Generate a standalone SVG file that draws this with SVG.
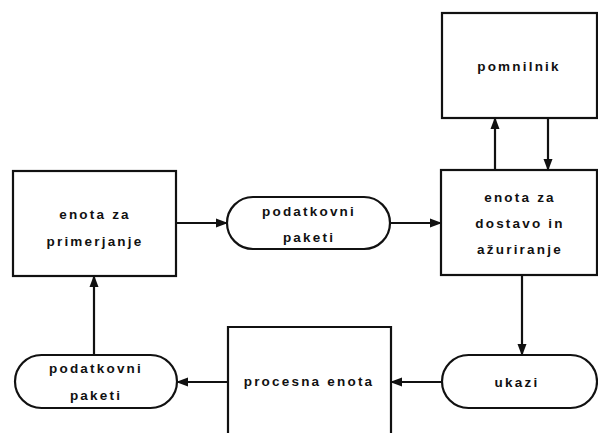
<svg xmlns="http://www.w3.org/2000/svg" width="598" height="433" viewBox="0 0 598 433">
<style>
.box{fill:#fff;stroke:#111;stroke-width:2.2}
.t{font-family:"Liberation Sans",Arial,sans-serif;font-size:13.5px;font-weight:bold;letter-spacing:2.2px;fill:#111;text-anchor:middle;dominant-baseline:central}
.c{stroke:#111;stroke-width:2.2;fill:none;marker-end:url(#ah)}
</style>
<defs>
<marker id="ah" markerWidth="12" markerHeight="10" refX="11" refY="5" orient="auto" markerUnits="userSpaceOnUse">
<path d="M0,0.5 L12,5 L0,9.5 z" fill="#111"/>
</marker>
</defs>
<rect width="598" height="433" fill="#fff"/>
<g id="pomnilnik">
<rect class="box" x="442" y="13" width="155" height="105"/>
<text class="t" x="519" y="66">pomnilnik</text>
</g>
<g id="primerjanje">
<rect class="box" x="13" y="171" width="163" height="105"/>
<text class="t" x="95" y="214">enota za</text>
<text class="t" x="95" y="241">primerjanje</text>
</g>
<g id="paketi1">
<rect class="box" x="227" y="197" width="163" height="52" rx="26" ry="26"/>
<text class="t" x="309" y="211">podatkovni</text>
<text class="t" x="309" y="237">paketi</text>
</g>
<g id="dostavo">
<rect class="box" x="441" y="170" width="156" height="105"/>
<text class="t" x="520" y="197">enota za</text>
<text class="t" x="520" y="223">dostavo in</text>
<text class="t" x="520" y="249">ažuriranje</text>
</g>
<g id="ukazi">
<rect class="box" x="442" y="355" width="155" height="53" rx="26.5" ry="26.5"/>
<text class="t" x="517" y="382">ukazi</text>
</g>
<g id="procesna">
<path class="box" d="M228,433 V327 H391 V433"/>
<text class="t" x="309" y="381">procesna enota</text>
</g>
<g id="paketi2">
<rect class="box" x="15" y="355" width="162" height="53" rx="26.5" ry="26.5"/>
<text class="t" x="96" y="368">podatkovni</text>
<text class="t" x="96" y="395">paketi</text>
</g>
<g id="connectors">
<line class="c" x1="176" y1="223" x2="227" y2="223"/>
<line class="c" x1="390" y1="223" x2="441" y2="223"/>
<line class="c" x1="495" y1="170" x2="495" y2="118"/>
<line class="c" x1="548" y1="118" x2="548" y2="170"/>
<line class="c" x1="522" y1="275" x2="522" y2="355"/>
<line class="c" x1="442" y1="382" x2="391" y2="382"/>
<line class="c" x1="228" y1="382" x2="177" y2="382"/>
<line class="c" x1="94" y1="355" x2="94" y2="276"/>
</g>
</svg>
